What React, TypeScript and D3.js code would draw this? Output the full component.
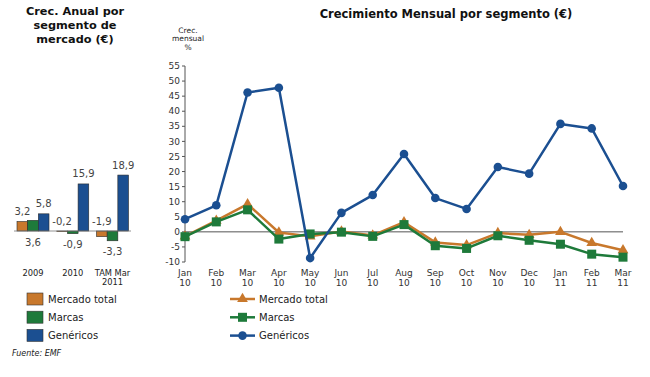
import React from "react";
import * as d3 from "d3";

const seriesNames = ["Mercado total", "Marcas", "Genéricos"];
const colors = ["#C8782C", "#1E7A3A", "#1B4F91"];

const annualCats = ["2009", "2010", "TAM Mar 2011"];
const annualMercado = [3.2, -0.2, -1.9];
const annualMarcas = [3.6, -0.9, -3.3];
const annualGenericos = [5.8, 15.9, 18.9];

const months = ["Jan 10", "Feb 10", "Mar 10", "Apr 10", "May 10", "Jun 10", "Jul 10", "Aug 10", "Sep 10", "Oct 10", "Nov 10", "Dec 10", "Jan 11", "Feb 11", "Mar 11"];
const mensMercado = [-1.5, 3.7, 9.2, -0.2, -1.5, 0.1, -1.2, 3.2, -3.5, -4.4, -0.4, -1.0, 0.0, -3.7, -6.1];
const mensMarcas = [-1.6, 3.3, 7.3, -2.4, -0.7, -0.1, -1.5, 2.4, -4.6, -5.5, -1.3, -2.8, -4.1, -7.4, -8.4];
const mensGenericos = [4.2, 8.8, 46.2, 47.8, -8.7, 6.3, 12.2, 25.8, 11.2, 7.6, 21.5, 19.3, 35.8, 34.3, 15.2];

const yTicks = [-10, -5, 0, 5, 10, 15, 20, 25, 30, 35, 40, 45, 50, 55];

const FONT = "'DejaVu Sans', Verdana, sans-serif";

function Marker({ kind, x, y, color }: { kind: number; x: number; y: number; color: string }) {
  if (kind === 0) {
    const p = d3.symbol().type(d3.symbolTriangle).size(50)();
    return <path d={p as string} transform={`translate(${x},${y})`} fill={color} />;
  }
  if (kind === 1) {
    return <rect x={x - 4.5} y={y - 4.5} width={9} height={9} fill={color} />;
  }
  return <circle cx={x} cy={y} r={4.3} fill={color} />;
}

export default function App() {
  const annualSeries = [annualMercado, annualMarcas, annualGenericos];
  const gx = d3.scalePoint<string>().domain(annualCats).range([33, 112.5]);
  const inner = d3.scaleBand<number>().domain([0, 1, 2]).range([-16, 16]);
  const ly = d3.scaleLinear().domain([-5, 20]).range([231 + 5 * 2.96, 231 - 20 * 2.96]);
  const fmt = (v: number) => v.toFixed(1).replace(".", ",");

  const mSeries = [mensMercado, mensMarcas, mensGenericos];
  const x = d3.scalePoint<string>().domain(months).range([185, 623]);
  const y = d3.scaleLinear().domain([-10, 55]).range([262, 66]);
  const line = d3
    .line<number>()
    .x((_, i) => x(months[i]) as number)
    .y((d) => y(d));

  const drawOrder = [0, 1, 2];

  return (
    <svg width={650} height={377} style={{ position: "absolute", left: 0, top: 0, background: "#fff" }} fontFamily={FONT}>
      <g fontWeight="bold" fontSize={11.3} fill="#111" textAnchor="middle">
        <text x={75} y={15}>Crec. Anual por</text>
        <text x={75} y={29}>segmento de</text>
        <text x={75} y={43}>mercado (€)</text>
      </g>

      {annualCats.map((c, gi) => (
        <g key={c}>
          {annualSeries.map((s, si) => {
            const v = s[gi];
            const bx = (gx(c) as number) + (inner(si) as number);
            const bw = inner.bandwidth();
            return (
              <rect
                key={si}
                x={bx}
                y={ly(Math.max(v, 0))}
                width={bw}
                height={Math.abs(ly(v) - ly(0))}
                fill={colors[si]}
                stroke="#2a2a2a"
                strokeWidth={0.6}
              />
            );
          })}
        </g>
      ))}
      <line x1={14} x2={131} y1={ly(0)} y2={ly(0)} stroke="#777" strokeWidth={0.8} />
      {annualCats.map((c, gi) =>
        annualSeries.map((s, si) => {
          const v = s[gi];
          const cx = (gx(c) as number) + (inner(si) as number) + inner.bandwidth() / 2;
          const cy = si === 1 ? ly(Math.min(v, 0)) + 11 : ly(Math.max(v, 0)) - 10;
          return (
            <text key={`${gi}-${si}`} x={cx} y={cy} dy="0.35em" textAnchor="middle" fontSize={10} fill="#444">
              {fmt(v)}
            </text>
          );
        })
      )}
      <g fontSize={8.3} fill="#222" textAnchor="middle">
        <text x={gx("2009")} y={273} dy="0.35em">2009</text>
        <text x={gx("2010")} y={273} dy="0.35em">2010</text>
        <text x={gx("TAM Mar 2011")} y={273} dy="0.35em">TAM Mar</text>
        <text x={gx("TAM Mar 2011")} y={282} dy="0.35em">2011</text>
      </g>

      {seriesNames.map((n, i) => (
        <g key={n}>
          <rect x={27} y={293 + i * 18.2} width={16} height={12} fill={colors[i]} stroke="#333" strokeWidth={0.6} />
          <text x={48} y={299 + i * 18.2} dy="0.35em" fontSize={10} fill="#222">{n}</text>
        </g>
      ))}
      <text x={12} y={353} dy="0.35em" fontSize={8} fontStyle="italic" fill="#222">Fuente: EMF</text>

      <text x={446} y={18} textAnchor="middle" fontWeight="bold" fontSize={11.5} fill="#111">
        Crecimiento Mensual por segmento (€)
      </text>
      <g fontSize={7.5} fill="#222" textAnchor="middle">
        <text x={188} y={30} dy="0.35em">Crec.</text>
        <text x={188} y={38.7} dy="0.35em">mensual</text>
        <text x={188} y={47.3} dy="0.35em">%</text>
      </g>

      <line x1={185} x2={185} y1={y(55)} y2={y(-10)} stroke="#555" strokeWidth={1} />
      {yTicks.map((t) => (
        <g key={t}>
          <line x1={182} x2={185} y1={y(t)} y2={y(t)} stroke="#555" strokeWidth={1} />
          <text x={180} y={y(t)} dy="0.35em" textAnchor="end" fontSize={9} fill="#333">
            {t}
          </text>
        </g>
      ))}
      <line x1={185} x2={623} y1={y(0)} y2={y(0)} stroke="#555" strokeWidth={1} />

      {months.map((m) => {
        const [a, b] = m.split(" ");
        return (
          <g key={m} fontSize={9} fill="#333" textAnchor="middle">
            <text x={x(m)} y={273} dy="0.35em">{a}</text>
            <text x={x(m)} y={283} dy="0.35em">{b}</text>
          </g>
        );
      })}

      {drawOrder.map((si) => (
        <g key={si}>
          <path d={line(mSeries[si]) as string} fill="none" stroke={colors[si]} strokeWidth={2.5} strokeLinejoin="round" />
          {mSeries[si].map((v, i) => (
            <Marker key={i} kind={si} x={x(months[i]) as number} y={y(v)} color={colors[si]} />
          ))}
        </g>
      ))}

      {seriesNames.map((n, i) => (
        <g key={n}>
          <line x1={230} x2={255} y1={299 + i * 18.3} y2={299 + i * 18.3} stroke={colors[i]} strokeWidth={2.5} />
          <Marker kind={i} x={242.5} y={299 + i * 18.3} color={colors[i]} />
          <text x={259} y={299 + i * 18.3} dy="0.35em" fontSize={10} fill="#222">{n}</text>
        </g>
      ))}
    </svg>
  );
}
